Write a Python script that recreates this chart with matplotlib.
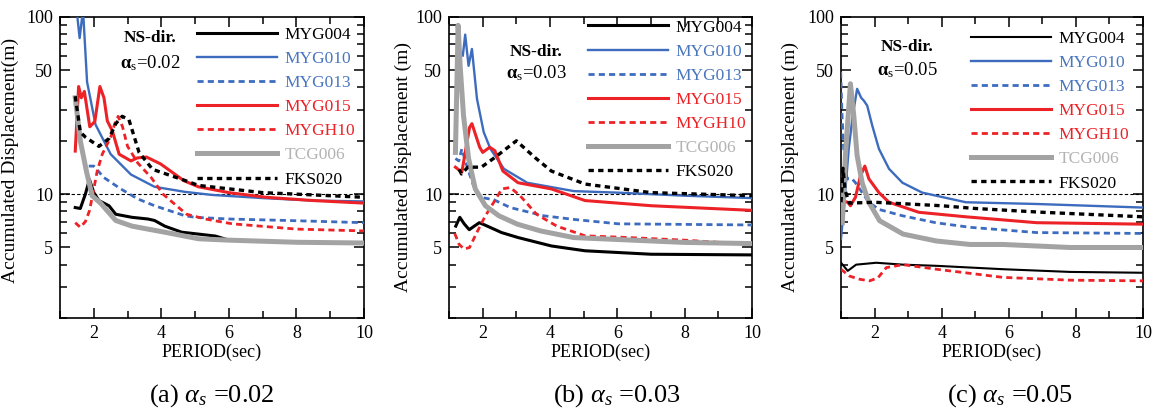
import numpy as np
import matplotlib.pyplot as plt
from matplotlib.ticker import FixedLocator, FixedFormatter, NullFormatter

plt.rcParams['font.family'] = ['Liberation Serif', 'DejaVu Serif']
# Times-like glyphs for the greek alpha too
plt.rcParams['mathtext.fontset'] = 'custom'
plt.rcParams['mathtext.rm'] = 'Liberation Serif'
plt.rcParams['mathtext.it'] = 'Liberation Serif:italic'
plt.rcParams['mathtext.bf'] = 'Liberation Serif:bold'

# -------------------- data --------------------
stations = ['MYG004', 'MYG010', 'MYG013', 'MYG015', 'MYGH10', 'TCG006', 'FKS020']
alphas = ['0.02', '0.03', '0.05']
captions = ['(a)', '(b)', '(c)']

# (a) alpha_s = 0.02
a_myg004_t = [1.45, 1.6, 1.75, 1.87, 2.0, 2.15, 2.45, 2.65, 3.13, 3.6, 3.8, 4.1, 4.6, 5.1, 5.6, 6, 8, 10]
a_myg004_v = [8.4, 8.3, 10, 12.1, 10.2, 9.2, 8.6, 7.7, 7.4, 7.24, 7.1, 6.6, 6.1, 5.95, 5.8, 5.5, 5.35, 5.3]
a_myg010_t = [1.45, 1.58, 1.68, 1.8, 2.05, 2.5, 3.1, 3.8, 4.7, 5.5, 7, 8.5, 10]
a_myg010_v = [130, 76, 110, 43, 24.7, 16.8, 12.9, 11, 10.3, 9.9, 9.5, 9.2, 9.1]
a_myg013_t = [1.85, 2.0, 2.3, 2.8, 3.3, 3.8, 4.7, 5, 6, 8, 10]
a_myg013_v = [14.4, 14.4, 12.4, 10.7, 9.4, 8.6, 7.55, 7.4, 7.24, 7.08, 6.9]
a_myg015_t = [1.45, 1.55, 1.63, 1.72, 1.88, 2.03, 2.18, 2.3, 2.4, 2.55, 2.75, 3.1, 3.28, 3.56, 3.98, 4.67, 5.1, 6, 7.1, 8.5, 10]
a_myg015_v = [17.5, 40.5, 35, 38, 24, 25.7, 40.5, 35, 25.9, 22.7, 16.8, 15.4, 16, 16.2, 14.8, 11.9, 11, 10.2, 9.6, 9.2, 8.9]
a_mygh10_t = [1.45, 1.6, 1.75, 1.87, 1.97, 2.1, 2.25, 2.5, 2.62, 2.72, 2.85, 3.0, 3.3, 3.7, 4.05, 4.45, 4.75, 5.3, 6.1, 8, 10]
a_mygh10_v = [6.9, 6.5, 7.0, 8.05, 10, 13.5, 16.8, 21, 25, 27.5, 24, 18.6, 15, 12.4, 10, 8.6, 7.7, 7.24, 6.8, 6.35, 6.2]
a_tcg006_t = [1.45, 1.6, 1.78, 1.95, 2.2, 2.65, 3.13, 3.6, 4.1, 5.1, 6, 8, 10]
a_tcg006_v = [35, 20, 13.5, 9.8, 8.9, 7.1, 6.6, 6.35, 6.1, 5.6, 5.5, 5.35, 5.3]
a_fks020_t = [1.45, 1.6, 1.75, 2.15, 2.45, 2.65, 2.84, 3.04, 3.34, 3.74, 4.67, 5.1, 7, 8.5, 10]
a_fks020_v = [35.7, 22.4, 21, 18.6, 20.6, 25, 27.5, 26.3, 17.2, 13.8, 12, 11.2, 10.2, 9.9, 9.6]

# (b) alpha_s = 0.03
b_myg004_t = [1.2, 1.32, 1.45, 1.6, 1.75, 1.9, 2.06, 2.56, 3.05, 4.04, 5.04, 7, 10]
b_myg004_v = [6.6, 7.4, 6.8, 6.3, 6.6, 6.9, 6.7, 6.07, 5.69, 5.1, 4.79, 4.58, 4.54]
b_myg010_t = [1.41, 1.48, 1.58, 1.68, 1.83, 2.03, 2.23, 2.63, 3.32, 4.71, 6, 8, 10]
b_myg010_v = [60.6, 79.5, 53, 66, 34.5, 22.4, 18, 13.9, 11.6, 10.4, 10.2, 9.8, 9.5]
b_myg013_t = [1.19, 1.29, 1.38, 1.53, 1.73, 1.93, 2.33, 2.82, 3.81, 4.71, 6.03, 10]
b_myg013_v = [15.9, 15.4, 18, 14.4, 11.1, 9.6, 9.3, 8.4, 7.55, 7.2, 6.8, 6.7]
b_myg015_t = [1.19, 1.38, 1.61, 1.68, 1.91, 2.0, 2.21, 2.36, 2.6, 3.05, 4.04, 5.04, 7.02, 10]
b_myg015_v = [14.2, 13.3, 23.8, 25, 18.4, 17.2, 18.4, 17.6, 13.5, 11.6, 10.7, 9.2, 8.6, 8.1]
b_mygh10_t = [1.17, 1.3, 1.45, 1.61, 1.83, 2.08, 2.33, 2.57, 2.82, 3.11, 3.6, 4.2, 5.04, 6.23, 8, 10]
b_mygh10_v = [6.0, 5.2, 4.9, 5.0, 6.1, 7.55, 9.0, 10.7, 10.9, 9.8, 7.7, 6.6, 5.82, 5.7, 5.5, 5.2]
b_tcg006_t = [1.19, 1.27, 1.33, 1.43, 1.58, 1.78, 2.08, 2.48, 3.03, 3.72, 4.7, 5.04, 8, 10]
b_tcg006_v = [17.2, 89.7, 53, 27.8, 15.9, 10.7, 8.6, 7.55, 6.77, 6.2, 5.69, 5.65, 5.34, 5.26]
b_fks020_t = [1.3, 1.37, 1.56, 1.96, 2.36, 3.0, 3.55, 4.04, 5.04, 7, 10]
b_fks020_v = [13.8, 13, 14.2, 14.2, 16.1, 20, 16.1, 13.5, 11.4, 10.2, 9.8]

# (c) alpha_s = 0.05
c_myg004_t = [1.0, 1.2, 1.45, 2.05, 2.85, 3.84, 5.83, 7.82, 10]
c_myg004_v = [4.1, 3.69, 4.0, 4.1, 4.0, 3.94, 3.77, 3.64, 3.6]
c_myg010_t = [1.0, 1.1, 1.23, 1.35, 1.48, 1.6, 1.68, 1.78, 1.93, 2.13, 2.43, 2.83, 3.42, 4.72, 6.83, 10]
c_myg010_v = [5.6, 9, 18, 28, 39.3, 35, 33.7, 31.6, 24.4, 18, 13.9, 11.6, 10.2, 9.0, 8.8, 8.4]
c_myg013_t = [0.99, 1.03, 1.08, 1.18, 1.33, 1.43, 1.63, 1.83, 2.13, 2.83, 3.82, 4.84, 6.83, 10]
c_myg013_v = [48.9, 27.8, 18, 12.2, 12.2, 11.6, 10.2, 9.0, 8.2, 7.55, 6.9, 6.5, 6.07, 6.0]
c_myg015_t = [0.99, 1.2, 1.28, 1.43, 1.58, 1.71, 1.83, 2.13, 2.43, 3.32, 4.72, 6.83, 10]
c_myg015_v = [9.2, 9.0, 8.6, 9.6, 12.7, 14.4, 12.2, 10.2, 9.0, 7.9, 7.45, 6.9, 6.77]
c_mygh10_t = [1.0, 1.25, 1.55, 1.85, 2.1, 2.35, 2.85, 3.84, 5.83, 7.82, 10]
c_mygh10_v = [3.77, 3.45, 3.31, 3.24, 3.37, 3.85, 4.0, 3.77, 3.39, 3.27, 3.24]
c_tcg006_t = [1.04, 1.13, 1.28, 1.38, 1.48, 1.63, 1.83, 2.15, 2.85, 3.84, 4.84, 5.83, 7.82, 10]
c_tcg006_v = [6.9, 16.5, 42, 27.8, 16.5, 11.6, 9.0, 7.08, 5.95, 5.44, 5.2, 5.2, 5.0, 5.0]
c_fks020_t = [1.0, 1.06, 1.12, 1.25, 2.0, 3.0, 4.0, 5.0, 7.0, 10]
c_fks020_v = [9.0, 14, 10.5, 8.9, 9.0, 8.8, 8.6, 8.3, 7.9, 7.45]

panels = [
    [(a_myg004_t, a_myg004_v), (a_myg010_t, a_myg010_v), (a_myg013_t, a_myg013_v), (a_myg015_t, a_myg015_v),
     (a_mygh10_t, a_mygh10_v), (a_tcg006_t, a_tcg006_v), (a_fks020_t, a_fks020_v)],
    [(b_myg004_t, b_myg004_v), (b_myg010_t, b_myg010_v), (b_myg013_t, b_myg013_v), (b_myg015_t, b_myg015_v),
     (b_mygh10_t, b_mygh10_v), (b_tcg006_t, b_tcg006_v), (b_fks020_t, b_fks020_v)],
    [(c_myg004_t, c_myg004_v), (c_myg010_t, c_myg010_v), (c_myg013_t, c_myg013_v), (c_myg015_t, c_myg015_v),
     (c_mygh10_t, c_mygh10_v), (c_tcg006_t, c_tcg006_v), (c_fks020_t, c_fks020_v)],
]

# -------------------- styles --------------------
blue = '#3d6cbf'
red = '#ec2227'
gray = '#a3a3a3'
line_colors = ['black', blue, blue, red, red, gray, 'black']
text_colors = ['black', '#4a76bd', '#4a76bd', '#ec2227', '#ec2227', '#b3b3b3', 'black']
line_widths = [2.2, 1.7, 2.0, 2.2, 2.0, 3.6, 2.4]
line_dashes = [None, None, (2.2, 1.5), None, (2.2, 1.5), None, (1.6, 1.3)]

ylabels = ['Accumulated Displacement(m)', 'Accumulated Displacement (m)', 'Accumulated Displacement (m)']
axes_pos = [[0.0519, 0.2356, 0.2627, 0.7236],
            [0.3881, 0.2356, 0.2619, 0.7236],
            [0.7269, 0.2356, 0.2610, 0.7236]]
label_xy = [(-0.135, 0.525), (-0.122, 0.5), (-0.139, 0.5)]
note_xy = [(0.296, 0.93, 0.847), (0.287, 0.884, 0.814), (0.22, 0.90, 0.824)]
legend_xy = [(0.45, 0.968), (0.458, 0.992), (0.43, 0.955)]
caption_x = [0.1832, 0.533, 0.873]

fig = plt.figure(figsize=(11.57, 4.16), dpi=100)

for k in range(3):
    ax = fig.add_axes(axes_pos[k])
    ax.axhline(10, color='black', lw=0.8, dashes=(3, 2), zorder=1)
    for i, (t, v) in enumerate(panels[k]):
        lw = line_widths[i]
        if k == 2 and i == 0:
            lw = 1.5   # MYG004 is thin in panel (c)
        line, = ax.plot(t, v, color=line_colors[i], lw=lw, label=stations[i], zorder=2 + i)
        if line_dashes[i] is not None:
            line.set_dashes(line_dashes[i])

    ax.set_yscale('log')
    ax.set_xlim(1, 10)
    ax.set_ylim(2, 100)
    ax.xaxis.set_major_locator(FixedLocator([2, 4, 6, 8, 10]))
    ax.xaxis.set_minor_locator(FixedLocator([1, 3, 5, 7, 9]))
    ax.yaxis.set_major_locator(FixedLocator([5, 10, 50, 100]))
    ax.yaxis.set_major_formatter(FixedFormatter(['5', '10', '50', '100']))
    ax.yaxis.set_minor_locator(FixedLocator([2, 3, 4, 6, 7, 8, 9, 20, 30, 40, 60, 70, 80, 90]))
    ax.yaxis.set_minor_formatter(NullFormatter())
    ax.tick_params(which='both', direction='in', top=True, right=True, labelsize=13, width=1.1)
    ax.tick_params(which='major', length=7, pad=5)
    ax.tick_params(which='minor', length=5)
    for s in ax.spines.values():
        s.set_linewidth(1.2)

    ax.set_xlabel('PERIOD(sec)', fontsize=13, labelpad=1)
    ax.set_ylabel(ylabels[k], fontsize=14)
    ax.yaxis.set_label_coords(*label_xy[k])

    nx, ny1, ny2 = note_xy[k]
    ax.text(nx, ny1, 'NS-dir.', transform=ax.transAxes, ha='center', va='center',
            fontsize=12.5, fontweight='bold')
    ax.text(nx, ny2, r'$\mathbf{\alpha}_{\rm s}$=' + alphas[k], transform=ax.transAxes,
            ha='center', va='center', fontsize=13.5)

    leg = ax.legend(loc='upper left', bbox_to_anchor=legend_xy[k], frameon=False, fontsize=12.5,
                    handlelength=4.6, handletextpad=0.45, labelspacing=0.46,
                    borderpad=0, borderaxespad=0, labelcolor=text_colors)

    fig.text(caption_x[k], 0.05, captions[k] + r' $\alpha_s$ =' + alphas[k], ha='center', va='center',
             fontsize=19)

fig.savefig('out.png', dpi=100)
